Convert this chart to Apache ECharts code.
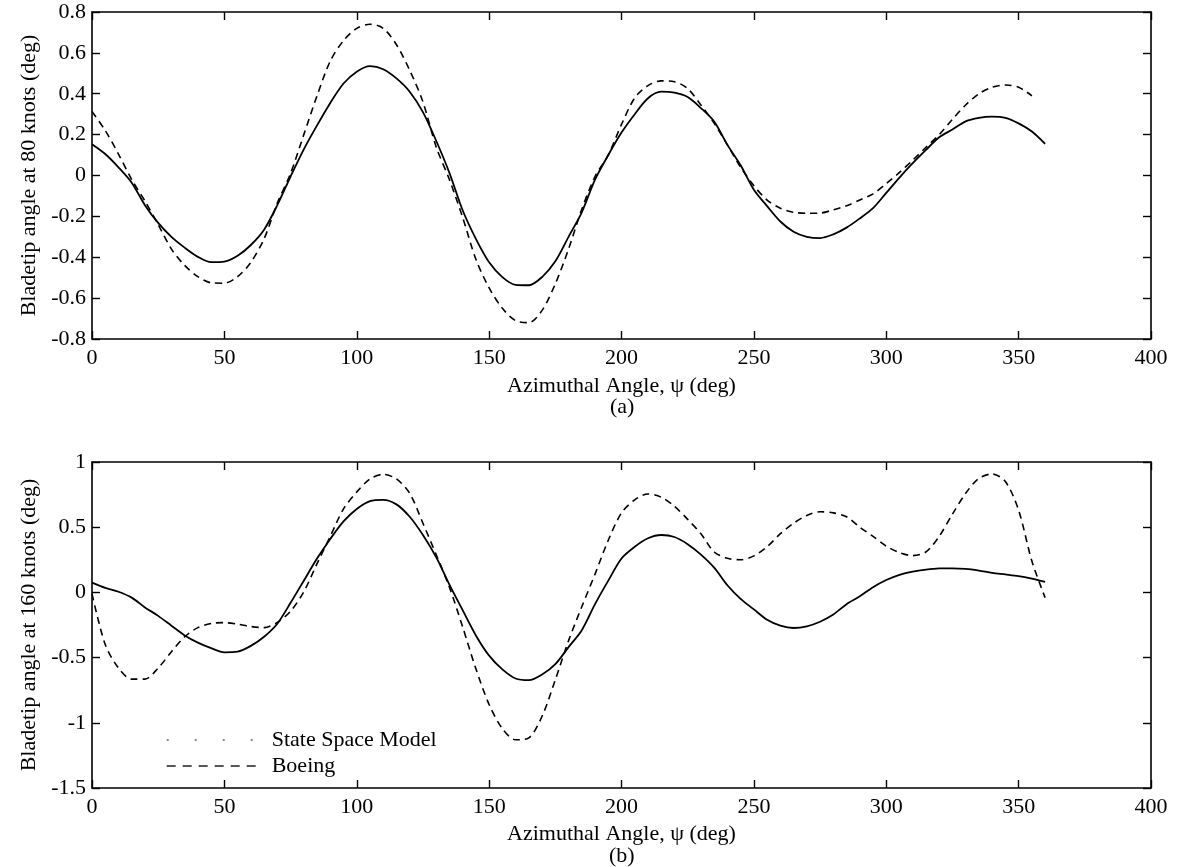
<!DOCTYPE html>
<html>
<head>
<meta charset="utf-8">
<script src="https://cdn.jsdelivr.net/npm/echarts@6/dist/echarts.min.js"></script>
<style>
html,body{margin:0;padding:0;background:#fff;}
#chart{width:1178px;height:867px;}
</style>
</head>
<body>
<div id="chart"></div>
<script>
// Azimuthal angle samples (deg)
const psi = [0,5,10,15,20,25,30,35,40,45,50,55,60,65,70,75,80,85,90,95,100,105,110,115,120,125,130,135,140,145,150,155,160,165,170,175,180,185,190,195,200,205,210,215,220,225,230,235,240,245,250,255,260,265,270,275,280,285,290,295,300,305,310,315,320,325,330,335,340,345,350,355,360];

// (a) 80 knots
const ssm80 = [0.153,0.105,0.04,-0.035,-0.145,-0.232,-0.30,-0.353,-0.398,-0.424,-0.421,-0.393,-0.34,-0.265,-0.145,-0.005,0.128,0.245,0.355,0.45,0.508,0.535,0.52,0.475,0.41,0.31,0.17,0.013,-0.17,-0.31,-0.425,-0.497,-0.535,-0.537,-0.497,-0.42,-0.30,-0.18,-0.02,0.10,0.21,0.30,0.378,0.41,0.405,0.384,0.33,0.264,0.15,0.05,-0.07,-0.15,-0.225,-0.275,-0.30,-0.306,-0.288,-0.255,-0.21,-0.16,-0.085,-0.01,0.06,0.125,0.187,0.225,0.265,0.282,0.288,0.282,0.255,0.215,0.155];
const boe80 = [0.313,0.22,0.105,-0.02,-0.125,-0.24,-0.36,-0.44,-0.495,-0.525,-0.527,-0.495,-0.425,-0.31,-0.135,0.01,0.20,0.39,0.56,0.66,0.72,0.74,0.72,0.64,0.515,0.36,0.14,-0.02,-0.205,-0.41,-0.55,-0.65,-0.71,-0.72,-0.66,-0.53,-0.36,-0.165,-0.005,0.10,0.25,0.38,0.44,0.463,0.459,0.425,0.345,0.256,0.15,0.04,-0.05,-0.12,-0.16,-0.18,-0.185,-0.184,-0.168,-0.148,-0.12,-0.09,-0.04,0.015,0.075,0.138,0.20,0.275,0.345,0.40,0.432,0.443,0.432,0.39,null];

// (b) 160 knots
const ssm160 = [0.075,0.035,0.005,-0.04,-0.115,-0.18,-0.255,-0.33,-0.385,-0.428,-0.46,-0.455,-0.41,-0.34,-0.24,-0.08,0.09,0.26,0.41,0.545,0.64,0.70,0.71,0.675,0.58,0.44,0.27,0.06,-0.136,-0.33,-0.485,-0.59,-0.66,-0.673,-0.63,-0.55,-0.42,-0.29,-0.09,0.09,0.26,0.35,0.415,0.44,0.425,0.37,0.29,0.19,0.055,-0.05,-0.13,-0.21,-0.255,-0.273,-0.26,-0.225,-0.17,-0.09,-0.03,0.04,0.095,0.135,0.16,0.175,0.184,0.185,0.18,0.167,0.15,0.138,0.125,0.105,0.08];
const boe160 = [-0.01,-0.40,-0.58,-0.665,-0.665,-0.58,-0.455,-0.34,-0.27,-0.238,-0.232,-0.244,-0.262,-0.27,-0.23,-0.145,0.005,0.22,0.43,0.64,0.77,0.87,0.905,0.87,0.76,0.53,0.29,0.04,-0.265,-0.585,-0.86,-1.045,-1.13,-1.115,-0.95,-0.67,-0.37,-0.11,0.14,0.40,0.61,0.71,0.755,0.73,0.66,0.56,0.45,0.31,0.262,0.25,0.28,0.35,0.45,0.53,0.59,0.618,0.61,0.58,0.50,0.43,0.355,0.305,0.282,0.31,0.43,0.60,0.76,0.875,0.908,0.85,0.63,0.24,-0.04];

const seriesNames = ['State Space Model', 'Boeing'];
const xName = 'Azimuthal Angle, \u03c8 (deg)';
const yNameA = 'Bladetip angle at 80 knots (deg)';
const yNameB = 'Bladetip angle at 160 knots (deg)';
const panelLabels = ['(a)', '(b)'];

const FONT = 'Liberation Serif';
const txt = {color:'#000', fontFamily: FONT, fontSize: 22};
const pair = arr => psi.map((x, i) => [x, arr[i]]);

function xAxisMain(gi, gap) {
  return {type:'value', gridIndex: gi, min:0, max:400, interval:50, position:'bottom',
    name: xName, nameLocation:'middle', nameGap: gap, nameTextStyle: txt,
    axisLine:{show:true, onZero:false, lineStyle:{color:'#000', width:1.6}},
    axisTick:{show:true, inside:true, length:8, lineStyle:{color:'#000', width:1.4}},
    axisLabel:{...txt, margin:8}, splitLine:{show:false}};
}
function xAxisTop(gi) {
  return {type:'value', gridIndex: gi, min:0, max:400, interval:50, position:'top',
    axisLine:{show:true, onZero:false, lineStyle:{color:'#000', width:1.6}},
    axisTick:{show:true, inside:true, length:8, lineStyle:{color:'#000', width:1.4}},
    axisLabel:{show:false}, splitLine:{show:false}};
}
function yAxisMain(gi, mn, mx, iv, nm) {
  return {type:'value', gridIndex: gi, min:mn, max:mx, interval:iv, position:'left',
    name: nm, nameLocation:'middle', nameGap: 52, nameTextStyle: txt,
    axisLine:{show:true, onZero:false, lineStyle:{color:'#000', width:1.6}},
    axisTick:{show:true, inside:true, length:8, lineStyle:{color:'#000', width:1.4}},
    axisLabel:{...txt, margin:6}, splitLine:{show:false}};
}
function yAxisRight(gi, mn, mx, iv) {
  return {type:'value', gridIndex: gi, min:mn, max:mx, interval:iv, position:'right',
    axisLine:{show:true, onZero:false, lineStyle:{color:'#000', width:1.6}},
    axisTick:{show:true, inside:true, length:8, lineStyle:{color:'#000', width:1.4}},
    axisLabel:{show:false}, splitLine:{show:false}};
}

const solid = {color:'#000', width:1.8, type:'solid'};
const dashed = {color:'#000', width:1.6, type:[7,5]};
const noMark = {color:'#000', opacity:0};

const chart = echarts.init(document.getElementById('chart'), null, {renderer:'canvas'});
chart.setOption({
  backgroundColor:'#fff',
  animation:false,
  color:['#000','#000'],
  grid:[
    {left:92, right:27, top:12, height:327},
    {left:92, right:27, top:462, height:326}
  ],
  xAxis:[xAxisMain(0, 36), xAxisTop(0), xAxisMain(1, 35), xAxisTop(1)],
  yAxis:[yAxisMain(0,-0.8,0.8,0.2,yNameA), yAxisRight(0,-0.8,0.8,0.2),
         yAxisMain(1,-1.5,1,0.5,yNameB), yAxisRight(1,-1.5,1,0.5)],
  legend:{
    orient:'vertical', left:161, top:724, itemWidth:93, itemHeight:14, itemGap:4,
    textStyle:{...txt, padding:[0,0,0,7]},
    itemStyle:{opacity:0},
    data:[
      {name:seriesNames[0], itemStyle:{opacity:0}, lineStyle:{type:[2,26], width:1.4, color:'#666'}},
      {name:seriesNames[1], itemStyle:{opacity:0}, lineStyle:{type:[9,7], width:1.4, color:'#222'}}
    ]
  },
  graphic:[
    {type:'text', left:610, top:396, style:{text:panelLabels[0], font:'22px "Liberation Serif"', fill:'#000'}},
    {type:'text', left:609, top:845, style:{text:panelLabels[1], font:'22px "Liberation Serif"', fill:'#000'}}
  ],
  series:[
    {name:seriesNames[0], type:'line', xAxisIndex:0, yAxisIndex:0, data:pair(ssm80), symbol:'none', smooth:0.3, lineStyle:solid, itemStyle:noMark},
    {name:seriesNames[1], type:'line', xAxisIndex:0, yAxisIndex:0, data:pair(boe80), symbol:'none', smooth:0.3, lineStyle:dashed, itemStyle:noMark},
    {name:seriesNames[0], type:'line', xAxisIndex:2, yAxisIndex:2, data:pair(ssm160), symbol:'none', smooth:0.3, lineStyle:solid, itemStyle:noMark},
    {name:seriesNames[1], type:'line', xAxisIndex:2, yAxisIndex:2, data:pair(boe160), symbol:'none', smooth:0.3, lineStyle:dashed, itemStyle:noMark}
  ]
});
</script>
</body>
</html>
